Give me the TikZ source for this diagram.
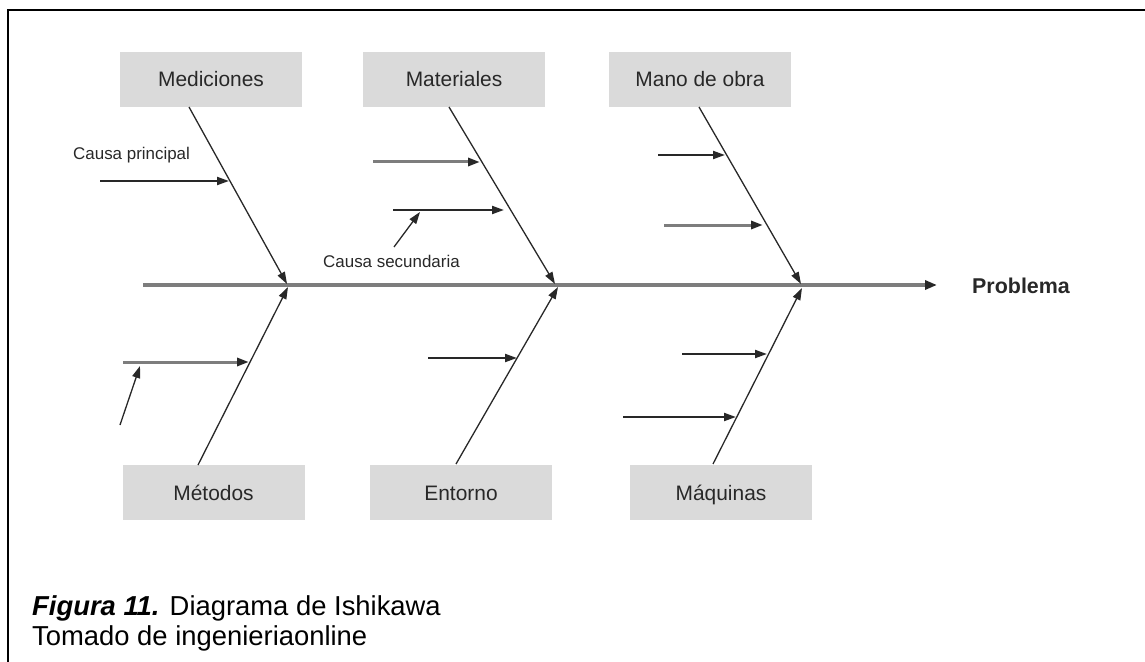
\documentclass[tikz,border=0pt]{standalone}
\usepackage{fontspec}
\setmainfont{Liberation Sans}
\usetikzlibrary{arrows.meta}
\definecolor{boxgray}{RGB}{218,218,218}
\definecolor{spinegray}{RGB}{125,125,125}
\definecolor{inkgray}{RGB}{40,40,40}
\begin{document}
\begin{tikzpicture}[x=1bp,y=-1bp,
  tipshape/.style={-{Triangle[length=12bp,width=8bp,color=inkgray]}},
  catbox/.style={fill=boxgray, minimum width=182bp, minimum height=55bp,
    inner sep=0pt, text=inkgray, text height=17bp, text depth=2bp,
    font=\fontsize{21}{24}\selectfont},
  bone/.style={tipshape, line width=1.3bp, draw=inkgray},
  cause/.style={tipshape, line width=2bp, draw=inkgray},
  causegray/.style={tipshape, line width=3bp, draw=spinegray},
  note/.style={anchor=west, inner sep=0pt, text=inkgray,
    font=\fontsize{17}{20}\selectfont},
  caption/.style={anchor=base west, inner sep=0pt,
    font=\fontsize{27.5}{31}\selectfont}]
\useasboundingbox (0,0) rectangle (1145,662);

% page frame (top and left edges)
\draw[line width=2.6bp, black] (8,662) -- (8,10) -- (1145,10);

% category boxes
\node[catbox] (med) at (211,79.5)  {Mediciones};
\node[catbox] (mat) at (454,79.5)  {Materiales};
\node[catbox] (man) at (700,79.5)  {Mano de obra};
\node[catbox] (met) at (213.5,492.5) {Métodos};
\node[catbox] (ent) at (461,492.5) {Entorno};
\node[catbox] (maq) at (721,492.5) {Máquinas};

% effect
\node[anchor=west, inner sep=0pt, text=inkgray,
  font=\fontsize{21.5}{24}\selectfont\bfseries] (prob) at (972,286) {Problema};

% spine
\coordinate (tail) at (143,285);
\coordinate (head) at (937,285);
\draw[line width=3.2bp, draw=spinegray,
  -{Triangle[length=12bp,width=9bp,color=inkgray]}] (tail) -- (head);

% junctions on the spine
\coordinate (j1t) at (287,284);
\coordinate (j2t) at (555,284);
\coordinate (j3t) at (801,284);
\coordinate (j1b) at (288,287);
\coordinate (j2b) at (558,287);
\coordinate (j3b) at (802,288);

% bone start points at the boxes
\coordinate (b1t) at (189,107);
\coordinate (b2t) at (449,107);
\coordinate (b3t) at (699,107);
\coordinate (b1b) at (198,465);
\coordinate (b2b) at (456,464);
\coordinate (b3b) at (713,464);

% main bones
\draw[bone] (b1t) -- (j1t);
\draw[bone] (b2t) -- (j2t);
\draw[bone] (b3t) -- (j3t);
\draw[bone] (b1b) -- (j1b);
\draw[bone] (b2b) -- (j2b);
\draw[bone] (b3b) -- (j3b);

% Mediciones
\node[note] (cp) at (73,155) {Causa principal};
\coordinate (c1s) at (100,181);  \coordinate (c1e) at (229,181);
\draw[cause] (c1s) -- (c1e);

% Materiales
\coordinate (c2s) at (373,162);  \coordinate (c2e) at (480,162);
\draw[causegray] (c2s) -- (c2e);
\coordinate (c3s) at (393,210);  \coordinate (c3e) at (504,210);
\draw[cause] (c3s) -- (c3e);
\node[note] (cs) at (323,261) {Causa secundaria};
\coordinate (s1s) at (394,247);  \coordinate (s1e) at (420,212);
\draw[bone] (s1s) -- (s1e);

% Mano de obra
\coordinate (c4s) at (658,155);  \coordinate (c4e) at (725,155);
\draw[cause] (c4s) -- (c4e);
\coordinate (c5s) at (664,225);  \coordinate (c5e) at (763,225);
\draw[causegray] (c5s) -- (c5e);

% Metodos
\coordinate (c6s) at (123,362);  \coordinate (c6e) at (249,362);
\draw[causegray] (c6s) -- (c6e);
\coordinate (s2s) at (120,425);  \coordinate (s2e) at (140,366);
\draw[bone] (s2s) -- (s2e);

% Entorno
\coordinate (c7s) at (428,358);  \coordinate (c7e) at (517,358);
\draw[cause] (c7s) -- (c7e);

% Maquinas
\coordinate (c8s) at (682,354);  \coordinate (c8e) at (767,354);
\draw[cause] (c8s) -- (c8e);
\coordinate (c9s) at (623,417);  \coordinate (c9e) at (736,417);
\draw[cause] (c9s) -- (c9e);

% caption
\node[caption] (cap1) at (32,615)
  {\textbf{\textit{Figura 11.}} Diagrama de Ishikawa};
\node[caption] (cap2) at (32,645) {Tomado de ingenieriaonline};
\end{tikzpicture}
\end{document}
